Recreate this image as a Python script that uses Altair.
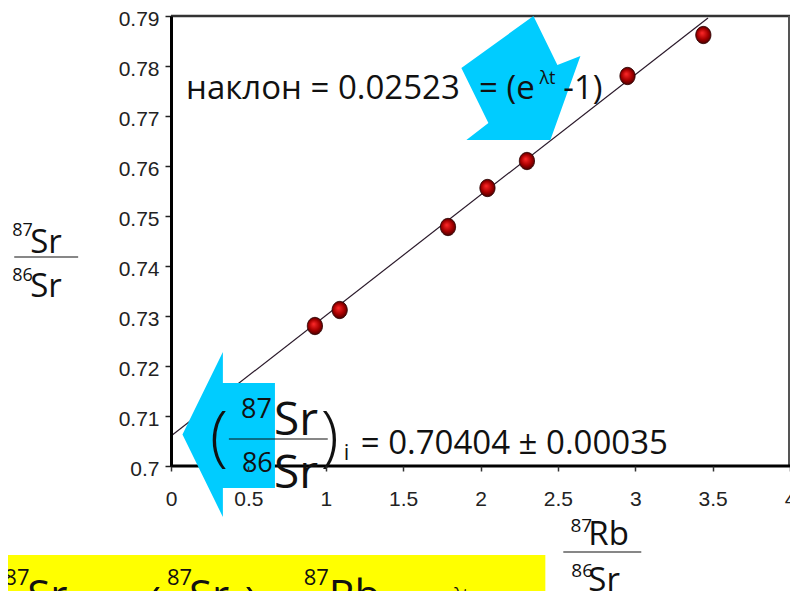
import altair as alt
import pandas as pd

# ---- data ----
rb86 = [0.93, 1.09, 1.79, 2.045, 2.30, 2.95, 3.44]
sr86 = [0.7280, 0.7312, 0.7478, 0.7556, 0.7610, 0.7780, 0.7862]

fit_x = [0.0, 3.47]
fit_y = [0.7060, 0.7896]

x_ticks = [0, 0.5, 1, 1.5, 2, 2.5, 3, 3.5, 4]
y_ticks = [0.70, 0.71, 0.72, 0.73, 0.74, 0.75, 0.76, 0.77, 0.78, 0.79]

# annotation texts (positions in data units)
txt = ["наклон = 0.02523", "= (e", "λt", "-1)",
       "87", "Sr", "86", "Sr", "i", "= 0.70404 ± 0.00035",
       "87", "Sr", "86", "Sr",
       "87", "Rb", "86", "Sr",
       "87", "Sr", "87", "Sr", "87", "Rb", "(e", "λt", "-1)"]
txt_x = [0.097, 1.990, 2.381, 2.535,
         0.452, 0.665, 0.458, 0.665, 1.116, 1.226,
         -1.026, -0.910, -1.026, -0.910,
         2.581, 2.697, 2.587, 2.697,
         -1.077, -0.929, -0.026, 0.116, 0.858, 1.019, 1.632, 1.826, 1.955]
txt_y = [0.7734, 0.7734, 0.7764, 0.7734,
         0.7096, 0.7062, 0.6988, 0.6956, 0.7012, 0.7024,
         0.7460, 0.7426, 0.7370, 0.7338,
         0.6868, 0.6842, 0.6778, 0.6750,
         0.6762, 0.6712, 0.6762, 0.6712, 0.6762, 0.6712, 0.6700, 0.6732, 0.6700]
txt_size = [33, 33, 18, 33,
            27, 46, 27, 46, 22, 33,
            18, 33, 18, 33,
            19, 33, 19, 33,
            22, 42, 22, 42, 22, 42, 30, 17, 30]

paren_txt = ["(", ")", "(", ")"]
paren_x = [0.252, 0.968, -0.174, 0.471]
paren_y = [0.7014, 0.7014, 0.6662, 0.6662]
paren_size = [66, 66, 66, 66]

frac_x1 = [0.374, -1.013, 2.535]
frac_x2 = [1.013, -0.600, 3.039]
frac_y = [0.7054, 0.7418, 0.6828]

arrow_left_x = [0.371]
arrow_left_y = [0.7063]
arrow_down_x = [2.261]
arrow_down_y = [0.7776]

box_x1 = [-1.11]
box_x2 = [2.419]
box_y1 = [0.6822]
box_y2 = [0.6692]

base_x1 = [0.0]
base_x2 = [4.0]
base_y = [0.70]
top_y = [0.79]
right_x = [4.0]
right_y1 = [0.70]
right_y2 = [0.79]

# ---- frames ----
pts = pd.DataFrame({"x": rb86, "y": sr86})
fit = pd.DataFrame({"x": fit_x, "y": fit_y})
tx = pd.DataFrame({"t": txt, "x": txt_x, "y": txt_y, "s": txt_size})
pr = pd.DataFrame({"t": paren_txt, "x": paren_x, "y": paren_y, "s": paren_size})
fr = pd.DataFrame({"x": frac_x1, "x2": frac_x2, "y": frac_y})
al = pd.DataFrame({"x": arrow_left_x, "y": arrow_left_y})
ad = pd.DataFrame({"x": arrow_down_x, "y": arrow_down_y})
bx = pd.DataFrame({"x": box_x1, "x2": box_x2, "y": box_y1, "y2": box_y2})
bl = pd.DataFrame({"x": base_x1, "x2": base_x2, "y": base_y})
tp = pd.DataFrame({"x": base_x1, "x2": base_x2, "y": top_y})
rt = pd.DataFrame({"x": right_x, "y": right_y1, "y2": right_y2})

xscale = alt.Scale(domain=[0, 4], nice=False, zero=False)
yscale = alt.Scale(domain=[0.70, 0.79], nice=False, zero=False)

xaxis = alt.Axis(values=x_ticks, format="~g", title=None, grid=False, domain=False,
                 labelFont="Liberation Sans", labelFontSize=21, labelColor="#222",
                 labelPadding=17, tickSize=5, tickColor="#333", tickWidth=1.5,
                 labelFlush=False, labelOverlap=False, zindex=1)
yaxis = alt.Axis(values=y_ticks, format="~g", title=None, grid=False, domain=True,
                 domainColor="#000", domainWidth=3,
                 labelFont="Liberation Sans", labelFontSize=21, labelColor="#222",
                 labelPadding=6, labelOffset=3.5, tickSize=6, tickColor="#222",
                 tickWidth=1.5, labelFlush=False, labelOverlap=False, zindex=1)


def X(f="x"):
    return alt.X(f, type="quantitative", scale=xscale, axis=xaxis)


def Y(f="y"):
    return alt.Y(f, type="quantitative", scale=yscale, axis=yaxis)


box = alt.Chart(bx).mark_rect(color="#FFFF00").encode(
    x=X(), x2="x2", y=Y(), y2="y2")

topline = alt.Chart(tp).mark_rule(color="#333", strokeWidth=2.5).encode(
    x=X(), x2="x2", y=Y())
rightline = alt.Chart(rt).mark_rule(color="#555", strokeWidth=4).encode(
    x=X(), y=Y(), y2="y2")
baseline = alt.Chart(bl).mark_rule(color="#000", strokeWidth=3).encode(
    x=X(), x2="x2", y=Y())

line = alt.Chart(fit).mark_line(color="#2b1a2b", strokeWidth=1.2).encode(
    x=X(), y=Y())

grad = {"gradient": "radial", "x1": 0.42, "y1": 0.38, "r1": 0.0,
        "x2": 0.5, "y2": 0.5, "r2": 0.55,
        "stops": [{"offset": 0.0, "color": "#ff2a2a"},
                  {"offset": 0.55, "color": "#a80000"},
                  {"offset": 1.0, "color": "#340000"}]}
ellipse = "M -0.88 0 A 0.88 1 0 1 1 0.88 0 A 0.88 1 0 1 1 -0.88 0 Z"
points = alt.Chart(pts).mark_point(shape=ellipse, size=300, filled=True, fill=grad,
                                   opacity=1, stroke="#2a0000", strokeWidth=0.8).encode(
    x=X(), y=Y())

left_arrow = ("M -0.557 0 L -0.067 -1 L -0.067 -0.624 L 0.564 -0.624 "
              "L 0.564 0.648 L -0.067 0.648 L -0.067 1 Z")
down_arrow = ("M 0.202 -1 L 0.589 -0.21 L 0.96 -0.355 L 0.476 1 "
              "L -0.879 1 L -0.524 0.726 L -0.96 -0.161 Z")
arr1 = alt.Chart(al).mark_point(shape=left_arrow, size=27225, filled=True,
                                fill="#00CCFF", opacity=1, strokeWidth=0).encode(
    x=X(), y=Y())
arr2 = alt.Chart(ad).mark_point(shape=down_arrow, size=15376, filled=True,
                                fill="#00CCFF", opacity=1, strokeWidth=0).encode(
    x=X(), y=Y())

fracs = alt.Chart(fr).mark_rule(color="#111", strokeWidth=1.2).encode(
    x=X(), x2="x2", y=Y())

texts = alt.Chart(tx).mark_text(align="left", baseline="alphabetic",
                                font="Open Sans", color="#111").encode(
    x=X(), y=Y(), text="t:N", size=alt.Size("s:Q", scale=None, legend=None))

parens = alt.Chart(pr).mark_text(align="left", baseline="alphabetic",
                                 font="Open Sans", fontWeight=300, color="#111").encode(
    x=X(), y=Y(), text="t:N", size=alt.Size("s:Q", scale=None, legend=None))

chart = alt.layer(box, topline, rightline, baseline, line, points, arr1, arr2,
                  fracs, parens, texts).properties(
    width=619, height=450,
    autosize=alt.AutoSizeParams(type="none"),
    padding={"left": 163, "top": 8, "right": 0, "bottom": 125},
).configure_view(
    fill="#FFCCFF", stroke="transparent", strokeWidth=0
).configure(background="#ffffff")

chart.save("out.html", embed_options={"renderer": "svg", "actions": False})
